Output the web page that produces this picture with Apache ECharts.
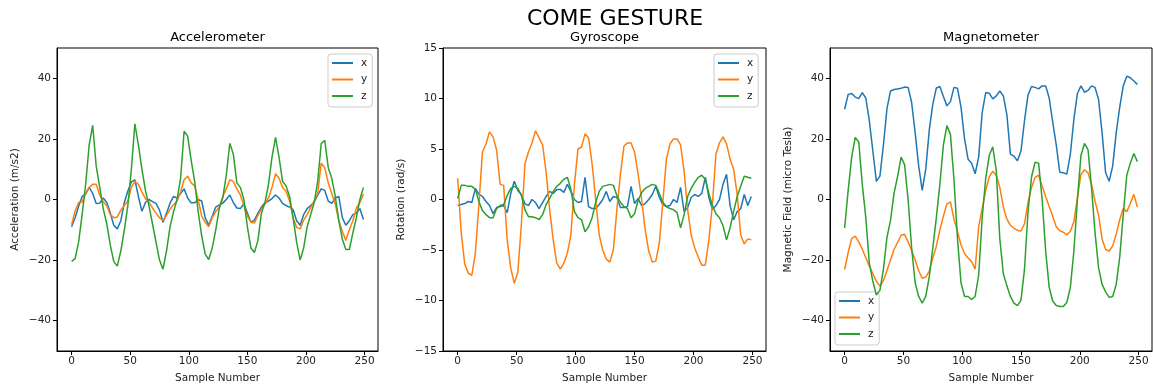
<!DOCTYPE html>
<html>
<head>
<meta charset="utf-8">
<script src="https://cdn.jsdelivr.net/npm/echarts@6/dist/echarts.min.js"></script>
<style>
html,body{margin:0;padding:0;background:#fff;}
#chart{width:1153px;height:389px;}
</style>
</head>
<body>
<div id="chart"></div>
<script>
// Sample numbers (every 3rd sample)
const sampleNumbers = [
  0,3,6,9,12,15,18,21,24,27,30,33,
  36,39,42,45,48,51,54,57,60,63,66,69,
  72,75,78,81,84,87,90,93,96,99,102,105,
  108,111,114,117,120,123,126,129,132,135,138,141,
  144,147,150,153,156,159,162,165,168,171,174,177,
  180,183,186,189,192,195,198,201,204,207,210,213,
  216,219,222,225,228,231,234,237,240,243,246,249
];
const xTicks = [0,50,100,150,200,250];
const accTicks = [-40,-20,0,20,40];
const magTicks = [-40,-20,0,20,40];
const seriesNames = ['x','y','z'];
const panelTitles = ['Accelerometer','Gyroscope','Magnetometer'];
const yLabels = ['Acceleration (m/s2)','Rotation (rad/s)','Magnetic Field (micro Tesla)'];

const accX = [
  -9,-6,-2.2,1,1.8,4,2,-1.3,-1.2,0.5,-1,-4.4,
  -8.5,-9.7,-7,-1,2.8,5.8,6.5,1,-3.9,-1,0,-0.7,
  -1.3,-3.5,-7.5,-4.5,-1.2,1,0.5,2,3.5,0.5,-1.1,-1.1,
  0,-0.5,-6,-8.5,-5.5,-2.5,-1.8,-1.2,0,1.5,-1,-2.8,
  -3,-1.5,-4.5,-7.5,-6.8,-4.5,-2.5,-1.1,-0.5,0.3,1.5,0.5,
  -1.3,-2,-2.5,-3.3,-7,-8.5,-5,-3,-2,-0.8,1.4,3.5,
  3,-0.5,-1.3,0.5,1,-6,-8.5,-7,-5,-4.5,-3,-6.6
];
const accY = [
  -8.3,-3.8,-1,-0.8,2,4,5,5,1.5,-0.8,-2,-5,
  -6,-5.8,-3.5,-2,-0.5,4,6,5,2.5,0.3,-0.8,-2.8,
  -4.5,-6,-7,-5.2,-3.2,-1.7,-0.5,2.5,6.5,7.7,5.5,4.5,
  0,-5.5,-7.5,-9,-6,-4,-2.5,1,3.5,6.5,6,3.5,
  1.5,-2,-5.5,-7.5,-7.8,-5.2,-3.2,-1.6,0.5,4,8.5,7,
  4,2.7,-0.5,-6,-9.2,-9.7,-6.8,-5,-2.7,-0.5,2,12,
  10.5,5.5,2,-1.5,-7,-10.5,-13.5,-10,-7,-2.8,-1,1.8
];
const accZ = [
  -20.4,-19.5,-14,-5,5,18,24.5,11,4,-3,-8,-15,
  -20.5,-22,-17,-10,-2,10,25,18,10,3,-2,-8,
  -14,-20,-23,-17,-9,-4,0,7,22.5,21,13,6,
  -4,-12,-18,-19.8,-16,-10,-3,0.5,8,18.5,15,5.5,
  4,0,-9,-16,-17.5,-13.5,-4.5,-1,5,14,20.5,14,
  6,4.5,1,-6,-14,-20,-16,-9,-5,-1,6,18.5,
  19.5,10.5,7,1,-7,-13,-16.5,-16.5,-11,-6,0,4
];
const gyroX = [
  -0.6,-0.5,-0.4,-0.2,-0.3,1.1,0.5,0.3,-0.2,-0.6,-1.4,-0.8,
  -0.7,-0.6,-1.3,0.6,1.8,0.9,0.5,-0.4,-0.6,0,-0.3,-0.9,
  -0.3,0.3,0.8,0.6,1,1,0.7,1.5,0.8,0,-0.3,-0.2,
  2.2,-0.7,-0.9,-0.9,-0.5,0,0.8,-0.2,0.3,0.2,-0.8,-0.8,
  -0.7,1.3,-0.4,0.1,-0.6,-0.4,0,0.5,1.3,0.2,-0.5,-0.7,
  -0.6,0,-0.3,1.2,-1.2,-0.8,0.2,0.5,0.3,0.6,2.2,0.2,
  -1,-0.6,0,1.5,2.5,-0.6,-2,-1.2,-0.9,0.5,-0.6,0.3
];
const gyroY = [
  2.1,-3.3,-6.4,-7.3,-7.5,-5.3,-0.5,4.7,5.5,6.7,6.2,4.9,
  1.5,1.4,-4,-6.8,-8.3,-7.2,-2.5,3.5,4.7,5.6,6.8,6.1,
  5.4,2.7,-1,-4,-6.3,-6.9,-6.3,-5.3,-3.5,1.5,5,5.2,
  6.5,6.1,3.5,0,-3.5,-5,-5.9,-6.2,-5,-1,2.5,5.3,
  5.6,5.6,4.7,2.5,0,-3,-5.1,-6.2,-6.1,-4.3,-0.2,4,
  5.5,6,6,5.4,2.8,-1,-3.5,-4.8,-5.7,-6.5,-6.5,-4,
  -0.5,4.5,5.6,6.2,5.5,4,3,0.5,-3.5,-4.4,-3.9,-4
];
const gyroZ = [
  0.1,1.4,1.4,1.3,1.3,1,-0.2,-1.1,-1.5,-1.8,-1.8,-0.9,
  -0.6,-0.5,0.4,1.1,1.3,1.1,0.4,-1,-1.7,-1.7,-1.8,-2,
  -1.5,-0.5,0.1,0.8,1.3,1.6,2,2.2,1,-1.2,-1.8,-2,
  -3.2,-2.7,-1.8,-0.3,0.8,1.3,1.4,1.5,1.4,0.4,-0.3,-0.7,
  -0.9,-1.8,-1.4,-0.1,0.7,1.1,1.3,1.5,1.4,0.6,-0.3,-0.7,
  -0.9,-1,-1.3,-2.8,-1.5,0.3,1.1,1.7,2.2,2.4,2,0.6,
  -0.6,-1.4,-1.8,-2.6,-4,-2.8,-1.2,0.3,1.3,2.3,2.2,2.1
];
const magX = [
  29.8,34.7,35,33.8,33.3,35.3,33.5,26,16,6,7.7,18,
  30,35.8,36.3,36.5,36.7,37.1,37,32,22,11,3,10,
  23,31.5,36.8,37.3,34,30.9,32.3,37,36.7,30.5,20,13.3,
  12,8.5,14,28.7,35.3,35.1,33.2,34.2,35.8,34.2,28,15,
  14.3,12.8,16,26,34.5,37.3,37,36.5,37.5,37.5,33.5,25.5,
  18,9,8.8,8.4,15,26.5,35,37.5,35.4,36,37.5,37,
  33,22,8.8,6,11,22,30.5,37.5,40.7,40.2,39.1,38
];
const magY = [
  -23.1,-17.5,-12.8,-12.1,-14,-16.4,-19.2,-22,-24.5,-27,-28.6,-26.8,
  -23.4,-20,-16.5,-14.2,-11.8,-11.5,-14,-16.8,-20,-23.5,-26,-25.6,
  -23.6,-19.3,-15.5,-10,-5.5,-1.5,-0.8,-6.5,-10.5,-15,-17.8,-19.3,
  -20.5,-23,-9,-3,3,7.5,9.3,8,4,-2.5,-6.5,-8.5,
  -9.5,-10.2,-10.4,-8,-1,4,7.3,8,4.5,1,-2.3,-5.5,
  -9,-10.3,-10.8,-11.7,-10.5,-7.3,0.5,8.3,9.8,8.8,5,-0.5,
  -5.2,-13,-16.5,-17,-15.3,-11.5,-6.7,-3,-4,-1.3,1.7,-2.5
];
const magZ = [
  -9.4,3,14,20.5,19,5,-6,-21,-27,-31.5,-30,-23,
  -12.5,-7,2,7.5,14,11.5,0,-16,-27.5,-32,-34.2,-32,
  -25.5,-16,-6,5,18,24.4,21.5,6.6,-13,-27.5,-32,-32,
  -33,-32,-25,-6,7,14.5,17.4,9.5,-13,-24.5,-28.5,-32,
  -34.2,-35,-33.2,-23,-4,7.5,12.3,12,0,-17,-29,-33.5,
  -35,-35.3,-35.3,-34,-29,-17,0,14.5,18.5,16.5,4,-11,
  -22.5,-28,-30.5,-32.3,-32,-28,-19,-5,8,12,15.2,12.5
];

const colors = ['#1f77b4','#ff7f0e','#2ca02c'];
const FONT = 'DejaVu Sans';
const panels = [[accX,accY,accZ],[gyroX,gyroY,gyroZ],[magX,magY,magZ]];

const grids = [
  {left:57, top:48, width:321, height:303},
  {left:443, top:48, width:323, height:303},
  {left:830, top:48, width:322, height:303}
];

const yRanges = [
  {min:-50, max:50, ticks:accTicks},
  {min:-15, max:15, interval:5},
  {min:-50, max:50, ticks:magTicks}
];

const option = {
  animation:false,
  backgroundColor:'#fff',
  textStyle:{fontFamily:FONT},
  grid: grids.map(g => Object.assign({show:true, borderColor:'#000', borderWidth:1, backgroundColor:'transparent'}, g)),
  xAxis: grids.map((g,i) => ({
    type:'value', gridIndex:i, min:-12.45, max:261.45,
    splitLine:{show:false},
    axisLine:{show:true, onZero:false, lineStyle:{color:'#000', width:1}},
    axisTick:{show:true, length:4, customValues:xTicks, lineStyle:{color:'#000'}},
    axisLabel:{customValues:xTicks, fontSize:10.5, color:'#222', margin:5, fontFamily:FONT},
    name:'Sample Number', nameLocation:'middle', nameGap:22,
    nameTextStyle:{fontSize:10.5, color:'#222', fontFamily:FONT}
  })),
  yAxis: grids.map((g,i) => {
    const r = yRanges[i];
    const ax = {
      type:'value', gridIndex:i, min:r.min, max:r.max,
      splitLine:{show:false},
      axisLine:{show:true, onZero:false, lineStyle:{color:'#000', width:1}},
      axisTick:{show:true, length:4, lineStyle:{color:'#000'}},
      axisLabel:{fontSize:10.5, color:'#222', margin:6, fontFamily:FONT,
        formatter: v => (v < 0 ? '\u2212' + Math.abs(v) : String(v))},
      name:yLabels[i], nameLocation:'middle', nameGap:36,
      nameTextStyle:{fontSize:10.5, color:'#222', fontFamily:FONT}
    };
    if (r.ticks) { ax.axisTick.customValues = r.ticks; ax.axisLabel.customValues = r.ticks; }
    else { ax.interval = r.interval; }
    return ax;
  }),
  legend: [
    {left:328, top:54},
    {left:714, top:54},
    {left:835, top:292}
  ].map(p => ({
    left:p.left, top:p.top, orient:'vertical', data:seriesNames, selectedMode:false,
    icon:'rect', itemWidth:21, itemHeight:2, itemGap:2.5,
    padding:[2,5,4,4],
    backgroundColor:'rgba(255,255,255,0.85)', borderColor:'#cccccc', borderWidth:1, borderRadius:3,
    textStyle:{fontSize:10.5, color:'#222', lineHeight:14, padding:[0,0,0,3], fontFamily:FONT}
  })),
  graphic: [
    {type:'text', x:615, y:19, style:{text:'COME GESTURE', font:'22px "DejaVu Sans"', fill:'#000', textAlign:'center', textVerticalAlign:'middle'}},
  ].concat(grids.map((g,i) => ({
    type:'text', x:g.left + g.width/2, y:38,
    style:{text:panelTitles[i], font:'13px "DejaVu Sans"', fill:'#000', textAlign:'center', textVerticalAlign:'middle'}
  }))),
  series: []
};

panels.forEach((vals, gi) => {
  vals.forEach((arr, si) => {
    option.series.push({
      type:'line', name:seriesNames[si], xAxisIndex:gi, yAxisIndex:gi,
      data: sampleNumbers.map((s,k) => [s, arr[k]]),
      showSymbol:false, symbol:'none',
      lineStyle:{color:colors[si], width:1.5},
      itemStyle:{color:colors[si]},
      z: 2 + si
    });
  });
});

const chart = echarts.init(document.getElementById('chart'), null, {renderer:'canvas'});
chart.setOption(option);
</script>
</body>
</html>
